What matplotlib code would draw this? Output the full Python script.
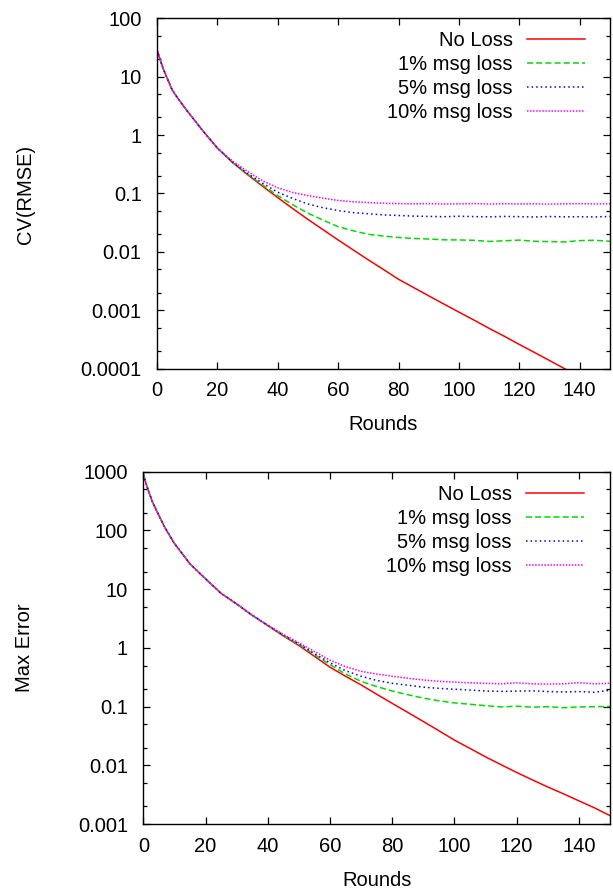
import matplotlib
matplotlib.use('Agg')
import matplotlib.pyplot as plt
from matplotlib.ticker import LogLocator, FuncFormatter, NullFormatter, MultipleLocator

font = {'family': ['Liberation Sans', 'DejaVu Sans'],
        'size': 14.5}
matplotlib.rc('font', **font)

rounds = [0, 1, 2, 3, 5, 7, 10, 15, 20, 25, 30, 35, 40, 45, 50, 55, 60, 65, 70, 75,
          80, 85, 90, 95, 100, 105, 110, 115, 120, 125, 130, 135, 140, 145, 150]

labels = ['No Loss', '1% msg loss', '5% msg loss', '10% msg loss']

# CV(RMSE)
cv_noloss = [29.5, 20, 14, 10.5, 6.0, 4.2, 2.6, 1.22, 0.6, 0.34, 0.21, 0.133, 0.085, 0.055,
             0.036, 0.024, 0.016, 0.0108, 0.0073, 0.0050, 0.0034, 0.00245,
             0.00177, 0.00128, 0.00093, 0.00068, 0.00049, 0.00036, 0.00026,
             0.00019, 0.000138, 0.0001, 0.000073, 0.000053, 0.0000385]
cv_loss1 = [29.5, 20, 14, 10.5, 6.0, 4.2, 2.6, 1.22, 0.6, 0.34, 0.215, 0.14, 0.092, 0.064,
            0.046, 0.035, 0.027, 0.023, 0.020, 0.0187, 0.0176, 0.0170,
            0.0166, 0.0161, 0.0160, 0.0158, 0.0151, 0.0155, 0.0159, 0.0152,
            0.0150, 0.0148, 0.0156, 0.0158, 0.0152]
cv_loss5 = [29.5, 20, 14, 10.5, 6.0, 4.2, 2.6, 1.22, 0.6, 0.345, 0.22, 0.15, 0.105, 0.082,
            0.066, 0.057, 0.051, 0.047, 0.045, 0.043, 0.042, 0.041, 0.0405,
            0.0400, 0.0408, 0.0402, 0.0398, 0.0405, 0.0401, 0.0396, 0.0403,
            0.0398, 0.0400, 0.0396, 0.0405]
cv_loss10 = [29.5, 20, 14, 10.5, 6.0, 4.2, 2.6, 1.22, 0.6, 0.36, 0.24, 0.165, 0.125, 0.104,
             0.092, 0.083, 0.076, 0.072, 0.070, 0.068, 0.067, 0.0665, 0.067,
             0.066, 0.0665, 0.0672, 0.0660, 0.0668, 0.0662, 0.0666, 0.0658,
             0.0664, 0.0670, 0.0662, 0.0668]

# Max Error
me_noloss = [900, 600, 420, 300, 180, 110, 60, 27, 15, 8.5, 5.6, 3.6, 2.4, 1.6, 1.1, 0.72,
             0.47, 0.33, 0.235, 0.163, 0.114, 0.08, 0.056, 0.039, 0.027,
             0.0195, 0.014, 0.0103, 0.0076, 0.0057, 0.0043, 0.0033, 0.0025,
             0.0019, 0.0014]
me_loss1 = [900, 600, 420, 300, 180, 110, 60, 27, 15, 8.5, 5.6, 3.6, 2.42, 1.63, 1.15, 0.77,
            0.52, 0.36, 0.27, 0.22, 0.185, 0.16, 0.14, 0.126, 0.116, 0.11,
            0.104, 0.099, 0.102, 0.098, 0.100, 0.096, 0.099, 0.100, 0.101]
me_loss5 = [900, 600, 420, 300, 180, 110, 60, 27, 15, 8.5, 5.6, 3.6, 2.43, 1.66, 1.18, 0.80,
            0.56, 0.41, 0.33, 0.28, 0.25, 0.232, 0.215, 0.205, 0.198, 0.192,
            0.185, 0.182, 0.184, 0.186, 0.181, 0.178, 0.181, 0.176, 0.19]
me_loss10 = [900, 600, 420, 300, 180, 110, 60, 27, 15, 8.5, 5.6, 3.6, 2.45, 1.7, 1.22, 0.87,
             0.62, 0.48, 0.40, 0.36, 0.33, 0.305, 0.285, 0.27, 0.262, 0.255,
             0.25, 0.245, 0.255, 0.245, 0.242, 0.245, 0.256, 0.245, 0.25]

styles = [dict(color='#ff0000', linestyle='-'),
          dict(color='#00dd00', linestyle=(0, (4, 2))),
          dict(color='#0000ff', linestyle=(0, (1, 2))),
          dict(color='#ff00ff', linestyle=(0, (1, 1)))]

fig = plt.figure(figsize=(6.13, 8.91), dpi=100)
ax1 = fig.add_axes([0.256, 0.5862, 0.739, 0.3933])
ax2 = fig.add_axes([0.2338, 0.075, 0.7612, 0.3956])


def plotPanel(ax, series, ylim):
    for data, label, st in zip(series, labels, styles):
        ax.plot(rounds, data, label=label, linewidth=1.1, **st)
    ax.set_yscale('log')
    ax.set_ylim(ylim)
    ax.set_xlim(0, 150)
    ax.xaxis.set_major_locator(MultipleLocator(20))
    ax.yaxis.set_major_locator(LogLocator(base=10, numticks=20))
    ax.yaxis.set_minor_locator(LogLocator(base=10, subs=(2, 5), numticks=20))
    ax.yaxis.set_major_formatter(FuncFormatter(lambda v, p: '%g' % v))
    ax.yaxis.set_minor_formatter(NullFormatter())
    ax.tick_params(which='both', direction='in', top=True, right=True)
    ax.tick_params(which='major', length=5, width=0.9)
    ax.tick_params(axis='y', which='major', pad=11)
    ax.tick_params(axis='x', which='major', pad=9)
    ax.tick_params(which='minor', length=3, width=0.9)
    for s in ax.spines.values():
        s.set_linewidth(1.0)
    ax.set_xlabel('Rounds', labelpad=11)
    leg = ax.legend(loc='upper right', bbox_to_anchor=(0.945, 0.963),
                    frameon=False, markerfirst=False, handlelength=2.9,
                    handletextpad=0.7, labelspacing=0.25, borderpad=0,
                    borderaxespad=0)
    return leg


plotPanel(ax1, [cv_noloss, cv_loss1, cv_loss5, cv_loss10], (0.0001, 100))
plotPanel(ax2, [me_noloss, me_loss1, me_loss5, me_loss10], (0.001, 1000))

fig.text(25 / 613, 1 - 194 / 891, 'CV(RMSE)', rotation=90, ha='center', va='center')
fig.text(25 / 613, 1 - 648 / 891, 'Max Error', rotation=90, ha='center', va='center')

fig.savefig('out.png', dpi=100)
